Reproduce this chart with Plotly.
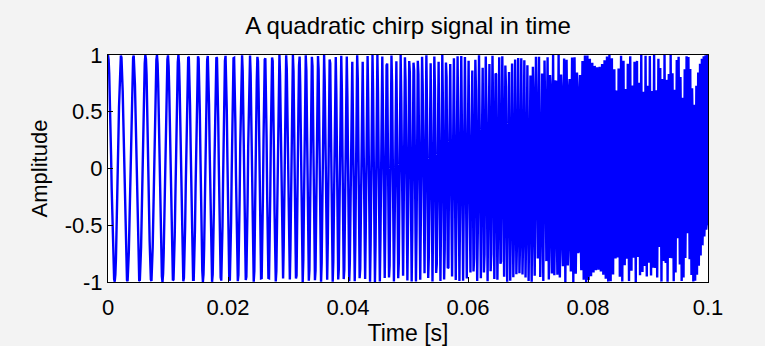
import numpy as np
import plotly.graph_objects as go

# Signal description
sample_rate = 9800.0          # samples per second
duration = 0.1                # seconds
start_freq = 450.0            # Hz at t = 0
freq_slope = 9000.0           # Hz per second (linear term of the sweep)
freq_curve = 190000.0         # Hz per second^2 (quadratic term of the sweep)
x_ticks = [0, 0.02, 0.04, 0.06, 0.08, 0.1]
x_tick_labels = ["0", "0.02", "0.04", "0.06", "0.08", "0.1"]
y_ticks = [-1, -0.5, 0, 0.5, 1]
y_tick_labels = ["-1", "-0.5", "0", "0.5", "1"]

t = np.arange(0, duration + 1e-12, 1.0 / sample_rate)
# quadratic chirp: f(t) = start_freq + freq_slope*t + freq_curve*t^2
phase = 2 * np.pi * (start_freq * t + freq_slope * t ** 2 / 2.0 + freq_curve * t ** 3 / 3.0)
amp = np.cos(phase)

fig = go.Figure()
fig.add_trace(go.Scatter(x=t, y=amp, mode="lines",
                         line=dict(color="#0000ff", width=2.4), showlegend=False))

font = "Liberation Sans, Arial, sans-serif"
fig.update_layout(
    width=765, height=346,
    margin=dict(l=108, r=57, t=55, b=64, autoexpand=False),
    paper_bgcolor="#f3f3f3", plot_bgcolor="#ffffff",
    title=dict(text="A quadratic chirp signal in time", x=0.5, xref="paper",
               y=1 - 26 / 346, yref="container", yanchor="middle",
               font=dict(family=font, size=24, color="#000000")),
    font=dict(family=font, color="#000000"),
)
fig.update_xaxes(range=[0, duration], tickvals=x_ticks, ticktext=x_tick_labels,
                 showgrid=False, zeroline=False, showline=True, linecolor="#000000",
                 linewidth=1, mirror=True, ticks="inside", ticklen=5, tickcolor="#000000",
                 ticklabelstandoff=6, automargin=False,
                 tickfont=dict(size=22), title=dict(text="Time [s]", font=dict(size=23), standoff=2))
fig.update_yaxes(range=[-1, 1], tickvals=y_ticks, ticktext=y_tick_labels,
                 showgrid=False, zeroline=False, showline=True, linecolor="#000000",
                 linewidth=1, mirror=True, ticks="inside", ticklen=5, tickcolor="#000000",
                 automargin=False,
                 tickfont=dict(size=22), title=dict(text="Amplitude", font=dict(size=22), standoff=10))

fig.write_html("out.html")
